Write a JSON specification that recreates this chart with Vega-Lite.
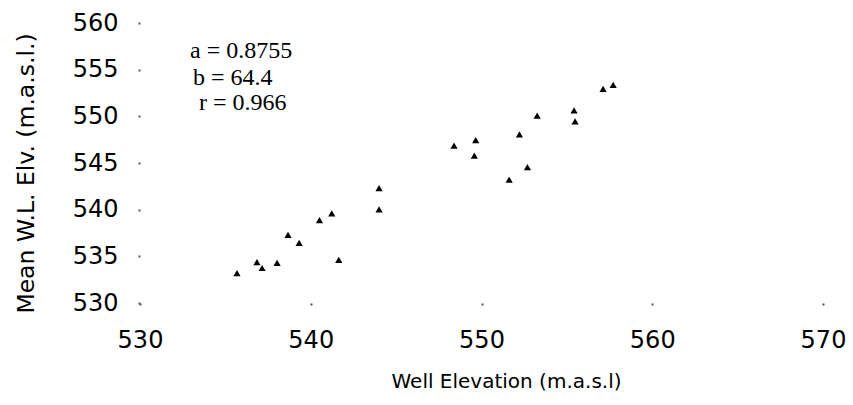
{
  "$schema": "https://vega.github.io/schema/vega-lite/v6.json",
  "autosize": "none",
  "width": 683,
  "height": 280,
  "padding": {"left": 140, "top": 23, "right": 30, "bottom": 102},
  "background": "white",
  "config": {
    "view": {"stroke": null},
    "axis": {
      "grid": false,
      "domain": false,
      "ticks": true,
      "tickSize": 2,
      "tickWidth": 2,
      "tickColor": "#555",
      "labelFont": "DejaVu Sans",
      "labelFontSize": 24,
      "labelColor": "#000",
      "labelFlush": false,
      "labelOverlap": false,
      "titleFont": "DejaVu Sans",
      "titleFontWeight": "normal",
      "titleColor": "#000"
    }
  },
  "layer": [
    {
      "data": {
        "values": [
          {"well": 535.68, "wl": 533.21},
          {"well": 536.85, "wl": 534.39},
          {"well": 537.15, "wl": 533.75},
          {"well": 538.03, "wl": 534.29},
          {"well": 538.67, "wl": 537.29},
          {"well": 539.32, "wl": 536.43},
          {"well": 540.51, "wl": 538.89},
          {"well": 541.23, "wl": 539.61},
          {"well": 541.64, "wl": 534.61},
          {"well": 544.00, "wl": 540.04},
          {"well": 544.00, "wl": 542.32},
          {"well": 548.39, "wl": 546.85},
          {"well": 549.66, "wl": 547.45},
          {"well": 549.58, "wl": 545.79},
          {"well": 551.62, "wl": 543.21},
          {"well": 552.69, "wl": 544.57},
          {"well": 552.22, "wl": 548.07},
          {"well": 553.26, "wl": 550.07},
          {"well": 555.42, "wl": 550.64},
          {"well": 555.48, "wl": 549.47},
          {"well": 557.12, "wl": 552.93},
          {"well": 557.71, "wl": 553.36}
        ]
      },
      "mark": {"type": "point", "shape": "triangle-up", "filled": true, "color": "#000", "opacity": 1, "size": 52},
      "encoding": {
        "x": {
          "field": "well",
          "type": "quantitative",
          "scale": {"domain": [530, 570], "nice": false, "zero": false},
          "axis": {
            "values": [530, 540, 550, 560, 570],
            "labelPadding": 23,
            "title": "Well Elevation (m.a.s.l)",
            "titleFontSize": 20,
            "titleX": 366,
            "titleY": 84,
            "titleAlign": "center",
            "titleBaseline": "alphabetic"
          }
        },
        "y": {
          "field": "wl",
          "type": "quantitative",
          "scale": {"domain": [530, 560], "nice": false, "zero": false},
          "axis": {
            "values": [530, 535, 540, 545, 550, 555, 560],
            "labelPadding": 20,
            "title": "Mean W.L. Elv. (m.a.s.l.)",
            "titleFontSize": 23.5,
            "titleX": -107,
            "titleY": 150,
            "titleAlign": "center",
            "titleBaseline": "alphabetic"
          }
        }
      }
    },
    {
      "data": {
        "values": [
          {"label": "a = 0.8755", "x": 532.93, "y": 556.25},
          {"label": "b = 64.4", "x": 533.10, "y": 553.36},
          {"label": "r = 0.966", "x": 533.46, "y": 550.68}
        ]
      },
      "mark": {"type": "text", "font": "Liberation Serif", "fontSize": 24, "align": "left", "baseline": "alphabetic", "color": "#000"},
      "encoding": {
        "x": {"field": "x", "type": "quantitative"},
        "y": {"field": "y", "type": "quantitative"},
        "text": {"field": "label"}
      }
    }
  ]
}
